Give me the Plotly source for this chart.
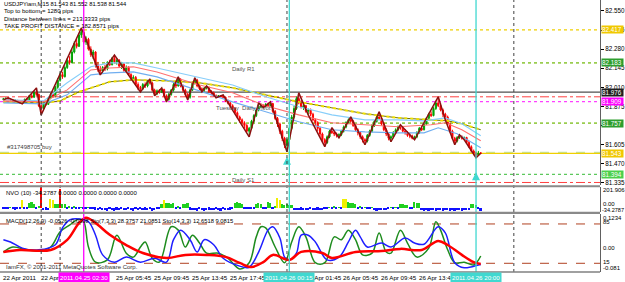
import plotly.graph_objects as go

# ---------------- data ----------------
closes = [81.928,81.932,81.926,81.922,81.915,81.918,81.905,81.900,81.905,81.925,
81.918,81.950,81.940,81.975,81.960,81.880,81.860,81.905,81.890,81.935,
81.960,81.945,82.010,82.060,82.100,82.085,82.150,82.200,82.185,82.260,
82.320,82.300,82.380,82.400,82.330,82.350,82.280,82.240,82.260,82.170,
82.140,82.125,82.150,82.140,82.185,82.170,82.215,82.190,82.200,82.160,
82.175,82.130,82.150,82.100,82.070,82.080,82.030,82.010,82.000,82.030,
82.020,82.055,82.040,81.990,81.965,81.985,81.975,81.995,81.950,81.925,
81.960,81.990,82.030,82.020,82.065,82.020,81.990,81.960,81.940,81.990,
82.040,82.060,82.020,82.000,81.990,82.005,82.010,81.980,81.970,81.950,
81.945,81.950,81.945,81.940,81.915,81.900,81.880,81.860,81.830,81.800,
81.780,81.760,81.740,81.700,81.720,81.770,81.810,81.850,81.870,81.880,
81.875,81.890,81.880,81.895,81.840,81.790,81.750,81.700,81.650,81.600,
81.640,81.720,81.800,81.860,81.930,81.900,81.870,81.880,81.840,81.850,
81.820,81.780,81.760,81.720,81.680,81.640,81.620,81.660,81.700,81.690,
81.680,81.670,81.675,81.700,81.730,81.760,81.780,81.770,81.740,81.710,
81.690,81.660,81.640,81.630,81.670,81.700,81.740,81.770,81.800,81.790,
81.750,81.710,81.680,81.650,81.660,81.690,81.710,81.730,81.720,81.700,
81.690,81.670,81.665,81.650,81.660,81.690,81.720,81.710,81.750,81.790,
81.820,81.810,81.860,81.900,81.880,81.850,81.820,81.800,81.750,81.700,
81.650,81.630,81.655,81.660,81.650,81.655,81.620,81.590,81.560,81.545,
81.530,81.545,81.544]
highs = [81.935,81.938,81.936,81.930,81.925,81.924,81.920,81.910,81.908,81.930,
81.935,81.955,81.962,81.982,82.006,81.965,81.900,81.910,81.915,81.940,
81.970,81.968,82.020,82.075,82.115,82.120,82.165,82.215,82.230,82.280,
82.335,82.350,82.395,82.430,82.415,82.370,82.360,82.300,82.275,82.265,
82.190,82.160,82.160,82.170,82.195,82.205,82.225,82.239,82.215,82.210,
82.190,82.180,82.165,82.160,82.110,82.095,82.090,82.045,82.020,82.040,
82.045,82.062,82.070,82.050,82.000,81.995,81.998,82.006,82.000,81.960,
81.970,81.998,82.040,82.055,82.084,82.075,82.030,82.000,81.970,82.000,
82.050,82.077,82.070,82.030,82.010,82.012,82.020,82.015,81.990,81.980,
81.960,81.955,81.955,81.957,81.945,81.925,81.905,81.890,81.870,81.840,
81.810,81.790,81.770,81.750,81.730,81.780,81.820,81.860,81.900,81.895,
81.890,81.898,81.902,81.907,81.900,81.850,81.800,81.760,81.710,81.660,
81.650,81.730,81.815,81.880,81.945,81.971,81.920,81.895,81.885,81.860,
81.860,81.830,81.790,81.770,81.730,81.690,81.650,81.670,81.710,81.724,
81.700,81.690,81.685,81.710,81.740,81.770,81.790,81.801,81.780,81.750,
81.720,81.700,81.670,81.650,81.680,81.710,81.750,81.780,81.815,81.837,
81.800,81.760,81.720,81.690,81.670,81.700,81.720,81.740,81.745,81.730,
81.715,81.700,81.690,81.675,81.668,81.700,81.730,81.735,81.760,81.800,
81.830,81.840,81.870,81.915,81.943,81.900,81.860,81.830,81.810,81.760,
81.710,81.660,81.665,81.674,81.670,81.662,81.660,81.630,81.600,81.570,
81.555,81.560,81.552]
lows = [81.918,81.922,81.920,81.915,81.908,81.905,81.900,81.895,81.893,81.900,
81.912,81.915,81.932,81.936,81.950,81.870,81.815,81.850,81.880,81.885,
81.925,81.935,81.940,82.000,82.050,82.070,82.080,82.140,82.170,82.180,
82.250,82.285,82.295,82.360,82.320,82.310,82.270,82.225,82.210,82.150,
82.120,82.098,82.110,82.125,82.130,82.160,82.165,82.180,82.170,82.150,
82.140,82.120,82.120,82.090,82.055,82.040,82.020,81.990,81.978,81.990,
82.005,82.010,82.030,81.980,81.950,81.955,81.965,81.970,81.940,81.907,
81.915,81.950,81.980,82.005,82.015,82.010,81.975,81.945,81.921,81.930,
81.985,82.030,82.010,81.990,81.978,81.980,81.995,81.970,81.955,81.940,
81.936,81.938,81.940,81.935,81.905,81.890,81.860,81.850,81.820,81.790,
81.760,81.740,81.720,81.690,81.660,81.710,81.760,81.800,81.840,81.865,
81.865,81.868,81.870,81.875,81.830,81.780,81.730,81.680,81.630,81.580,
81.554,81.630,81.710,81.790,81.850,81.890,81.860,81.850,81.830,81.815,
81.805,81.770,81.735,81.700,81.660,81.620,81.590,81.610,81.650,81.680,
81.665,81.655,81.653,81.665,81.690,81.720,81.750,81.760,81.730,81.700,
81.670,81.645,81.620,81.604,81.620,81.660,81.690,81.730,81.760,81.780,
81.740,81.700,81.665,81.635,81.625,81.650,81.680,81.700,81.710,81.690,
81.675,81.660,81.650,81.642,81.639,81.650,81.680,81.700,81.705,81.745,
81.780,81.800,81.805,81.850,81.870,81.840,81.800,81.780,81.740,81.690,
81.640,81.604,81.620,81.645,81.640,81.639,81.610,81.580,81.550,81.530,
81.512,81.525,81.538]
first_open = 81.925
bars = list(range(len(closes)))
opens = [first_open] + closes[:-1]

zz_i = [0,2,8,14,16,33,41,47,58,62,64,67,69,74,78,81,84,86,90,93,104,108,110,113,120,125,129,136,139,142,147,153,159,164,168,174,184,187,191,193,195,200,202]
zz_p = [81.921,81.936,81.893,82.006,81.815,82.430,82.098,82.239,81.978,82.070,81.950,82.006,81.907,82.084,81.921,82.077,81.978,82.020,81.936,81.957,81.660,81.900,81.865,81.907,81.554,81.971,81.815,81.590,81.724,81.653,81.801,81.604,81.837,81.625,81.745,81.639,81.943,81.780,81.604,81.674,81.639,81.512,81.544]

ma_lb_i = [0,17,27,37,45,55,65,83,97,111,125,139,153,167,178,187,194,202]
ma_lb_p = [81.921,81.914,82.042,82.155,82.183,82.183,82.147,82.077,82.027,81.943,81.872,81.815,81.780,81.780,81.773,81.794,81.752,81.667]
ma_rd_i = [0,17,27,37,45,55,65,83,97,111,125,139,153,167,181,187,194,202]
ma_rd_p = [81.914,81.907,81.992,82.133,82.147,82.155,82.119,82.027,81.971,81.879,81.815,81.759,81.745,81.731,81.745,81.759,81.710,81.632]
ma_bl_i = [0,17,27,37,45,55,65,83,97,111,125,139,153,167,178,184,192,202]
ma_bl_p = [81.900,81.893,81.957,82.098,82.112,82.119,82.084,81.985,81.907,81.837,81.766,81.710,81.695,81.688,81.688,81.724,81.681,81.583]
ma_ye_i = [0,17,24,32,45,55,69,83,97,111,125,139,153,167,181,188,194,202]
ma_ye_p = [81.907,81.900,81.914,81.978,82.049,82.063,82.056,82.042,82.006,81.957,81.907,81.865,81.823,81.794,81.780,81.773,81.752,81.710]

nvo = ([-12,-8,-15,6,-10,-18,-9,-14] + [80] + [-10,-6] + [45,55,40] + [-12,20] + [200]
       + [-22,-18,-25] + [88,72] + [38,42] + [180] + [40,35]
       + [-8,12,-10,15,-6,-12,8,-9,-14,6,-10,-7]
       + [-18,-22,-12,-25,-20,-28,-15,-22,-30,-18,-24,-10,-20,-26,-14,-22,-28,-16,-20,-12,-25,-18,-22,-15,-28,-20,-10,-16]
       + [40,78,50,45,38,52] + [-8,10,-12] + [42,38,45]
       + [-18,-25,-20,-28,-15,-22,-30,-24,-18,-26,-20,-12,-24,-28,-16,-22,-25,-18,-10]
       + [45,55,48,40] + [-10,-15,-8,-12,-6] + [42,48,38] + [-8,-12] + [55,50] + [-6,10] + [95,80]
       + [35,30,38,32,28] + [-20,-25,-22,-18,-24,-26,-20,-15,-22,-25,-18,-23,-20,-16]
       + [-8,6,-10,12,-6,8,-5] + [88,82] + [55,48,52,40] + [-8,10,-12,6,-10,-5,8]
       + [-25,-28,-22,-26,-24,-20] + [-6,8,-10,5,-8] + [35,38,30,32] + [-10,-6] + [55,50,45]
       + [-25,-28,-22,-30,-26,-24,-28,-20,-26,-30,-25,-22,-28,-24,-30,-26,-22,-28,-25,-20,-24]
       + [35,38,30] + [-8] + [-34.2787])

sto14_i = [0,3,8,15,22,25,28,32,36,39,42,47,52,58,64,69,72,75,79,82,85,89,93,100,104,108,112,114,117,119,121,124,126,129,132,137,142,146,149,151,154,160,164,170,174,178,184,187,191,195,201,202]
sto14_v = [57,53,42,39,48,78,92,94,89,65,30,17,26,17,24,17,57,74,57,35,57,48,24,10,8,35,74,80,60,26,21,33,65,65,53,21,26,53,74,62,44,51,44,60,51,49,80,69,16,7,12,13]
sto7_i = [0,4,10,15,20,24,28,32,34,36,39,44,48,52,55,58,60,63,66,71,74,77,80,83,86,91,95,100,104,107,109,111,115,119,122,125,128,132,136,140,143,146,149,152,156,159,162,164,168,171,175,180,183,185,188,191,195,199,202]
sto7_v = [35,44,39,37,44,71,83,94,89,44,17,21,65,33,26,44,53,24,17,80,74,44,65,51,33,33,24,5,16,62,80,78,44,16,53,80,62,16,16,62,57,74,57,30,33,69,35,33,74,51,26,42,89,74,39,16,17,12,28]
macd_i = [0,7,20,27,32,35,39,45,52,59,69,77,86,94,100,105,110,114,121,126,135,139,149,160,168,177,184,188,194,199,202]
macd_v = [-0.009,-0.002,-0.002,0.035,0.096,0.115,0.096,0.053,0.016,-0.013,-0.031,-0.020,-0.020,-0.027,-0.049,-0.064,-0.046,-0.020,-0.038,-0.009,-0.013,-0.031,-0.009,-0.006,0.002,-0.002,0.031,0.016,-0.020,-0.046,-0.053]

# horizontal levels: (price, colour, dash, width)
levels = [(82.417, "#F0D000", "dot", 1.2), (82.183, "#9ACD50", "dot", 1.6), (81.976, "#505050", "solid", 1.3),
          (81.943, "#FF4040", "dashdot", 1), (81.909, "#FF40FF", "dot", 1.4), (81.757, "#9ACD50", "dot", 1.6),
          (81.548, "#C0E4A8", "dash", 2), (81.543, "#F0D000", "solid", 1.3), (81.394, "#5CC85C", "dot", 1.2),
          (81.337, "#FF4040", "dashdot", 1)]
price_boxes = [(82.417, "#F0C800"), (82.183, "#2E9E2E"), (81.976, "#202020"), (81.909, "#FF00FF"),
               (81.757, "#2E9E2E"), (81.543, "#F0C800"), (81.394, "#4CD04C")]
price_ticks = [82.550, 82.415, 82.280, 82.145, 82.010, 81.875, 81.740, 81.605, 81.470, 81.335]
price_tick_text = ["82.550", "82.415", "82.280", "82.145", "82.010", "81.875", "", "81.605", "81.470", "81.335"]
sep_i = [16, 24, 120, 216]
vmarks = [(34, "#FF00FF", "2011.04.25 02:30"), (121, "#40D8D0", "2011.04.26 00:15"), (200, "#40D8D0", "2011.04.26 20:00")]
xlab_i = [-1, 15, 47, 63, 79, 95, 127, 143, 159, 175]
xlab_t = ["22 Apr 2011", "22 Apr 2", "25 Apr 05:45", "25 Apr 09:45", "25 Apr 13:45", "25 Apr 17:45",
          "26 Apr 01:45", "26 Apr 05:45", "26 Apr 09:45", "26 Apr 13:45"]
arrow_i = [120, 200]
arrow_p = [81.519, 81.410]

FONT = "Liberation Sans"
PH = 272.0  # plot height in px
def py(px):
    return 1 - px / PH

fig = go.Figure()
for lv, col, d, w in levels:
    fig.add_shape(type="line", xref="paper", x0=0, x1=1, yref="y", y0=lv, y1=lv,
                  line=dict(color=col, dash=d, width=w), layer="below")

fig.add_trace(go.Candlestick(x=bars, open=opens, high=highs, low=lows, close=closes,
    increasing=dict(line=dict(color="#00A000", width=1), fillcolor="#00B000"),
    decreasing=dict(line=dict(color="#FF0000", width=1), fillcolor="#FF0000"),
    whiskerwidth=0, xaxis="x", yaxis="y", hoverinfo="skip"))

fig.add_trace(go.Scatter(x=ma_ye_i, y=ma_ye_p, mode="lines", line=dict(color="#707000", width=1), xaxis="x", yaxis="y"))
fig.add_trace(go.Scatter(x=ma_ye_i, y=ma_ye_p, mode="lines", line=dict(color="#F0E000", width=2, dash="dot"), xaxis="x", yaxis="y"))
fig.add_trace(go.Scatter(x=ma_lb_i, y=ma_lb_p, mode="lines", line=dict(color="#87CEFA", width=1.1), xaxis="x", yaxis="y"))
fig.add_trace(go.Scatter(x=ma_rd_i, y=ma_rd_p, mode="lines", line=dict(color="#FF7070", width=1.1), xaxis="x", yaxis="y"))
fig.add_trace(go.Scatter(x=ma_bl_i, y=ma_bl_p, mode="lines", line=dict(color="#70AEF0", width=1.1), xaxis="x", yaxis="y"))
fig.add_trace(go.Scatter(x=zz_i, y=zz_p, mode="lines", line=dict(color="#8B1010", width=1.5), xaxis="x", yaxis="y"))
fig.add_trace(go.Scatter(x=arrow_i, y=arrow_p, mode="markers", marker=dict(symbol="arrow-up", size=8, color="#40D8D0"), xaxis="x", yaxis="y"))

ncol = ["#FF0000" if v >= 150 else "#F0F000" if v >= 70 else "#20D020" if v >= 0 else "#1010FF" for v in nvo]
fig.add_trace(go.Bar(x=list(range(len(nvo))), y=nvo, marker=dict(color=ncol, line=dict(width=0)), width=0.7, xaxis="x", yaxis="y2"))

fig.add_trace(go.Scatter(x=macd_i, y=macd_v, mode="lines", line=dict(color="#FF0000", width=2.5, shape="spline"), xaxis="x", yaxis="y4"))
fig.add_trace(go.Scatter(x=sto7_i, y=sto7_v, mode="lines", line=dict(color="#1E8C1E", width=1.5, shape="spline"), xaxis="x", yaxis="y3"))
fig.add_trace(go.Scatter(x=sto14_i, y=sto14_v, mode="lines", line=dict(color="#1E1EFF", width=1.5, shape="spline"), xaxis="x", yaxis="y3"))

for lv in (85, 15):
    fig.add_shape(type="line", xref="paper", x0=0, x1=1, yref="y3", y0=lv, y1=lv,
                  line=dict(color="#B04020", dash="dash", width=1), layer="below")

for s in sep_i:
    fig.add_shape(type="line", xref="x", x0=s, x1=s, yref="paper", y0=0, y1=1,
                  line=dict(color="#404040", dash="dot", width=1))
for vi, col, _ in vmarks:
    fig.add_shape(type="line", xref="x", x0=vi, x1=vi, yref="paper", y0=0, y1=1,
                  line=dict(color=col, width=1.3))

# panel separators
for a, b in ((185.2, 187.3), (211.8, 213.9)):
    fig.add_shape(type="rect", xref="paper", x0=0, x1=1, yref="paper", y0=py(b), y1=py(a),
                  fillcolor="#8A8A8A", line=dict(width=0))
fig.add_shape(type="line", xref="paper", x0=0, x1=1, yref="paper", y0=0, y1=0, line=dict(color="#808080", width=1.5))

ann = []
def txt(x, y, t, xref="paper", yref="paper", xa="left", ya="middle", size=6, color="#000000", **kw):
    ann.append(dict(x=x, y=y, xref=xref, yref=yref, text=t, showarrow=False, xanchor=xa, yanchor=ya,
                    font=dict(family=FONT, size=size, color=color), **kw))

txt(0.003, py(4), "USDJPYiam,M15 81.543 81.552 81.538 81.544", size=5.8)
txt(0.003, py(11.5), "Top to bottom = 1280 pips")
txt(0.003, py(19), "Distance between lines = 213.3333 pips")
txt(0.003, py(26.5), "TAKE PROFIT DISTANCE = 182.8571 pips")
txt(96, 82.183, "Daily R1", xref="x", yref="y", ya="top", color="#505050", yshift=-1)
txt(96, 81.394, "Daily S1", xref="x", yref="y", ya="top", color="#505050", yshift=-1)
txt(89, 81.909, "Tuesday  Daily Pivot", xref="x", yref="y", ya="top", color="#505050", yshift=-1)
txt(0.6, 81.543, "#317498705 buy", xref="x", yref="y", ya="bottom", color="#404040", yshift=1)
txt(0.006, py(193), "NVO (10) -34.2787 0.0000 0.0000 0.0000 0.0000")
txt(0.006, py(221), "MACD(12,26,9) -0.0526 -0.0398 Sto(7,3,3) 28.3757 21.0851 Sto(14,3,3) 12.6518 9.0815", size=5.8)
txt(0.006, py(266.5), "IamFX, © 2001-2011 MetaQuotes Software Corp.", color="#303030")

for p, col in price_boxes:
    txt(1, p, "%.3f" % p, yref="y", color="#FFFFFF", xshift=1, bgcolor=col, borderpad=0, width=21, align="left", size=6.3)

txt(1, 201.906, "201.906", yref="y2", xshift=1, yshift=-2)
txt(1, 0, "0.00", yref="y2", xshift=1, yshift=4)
txt(1, -34.2787, "-34.2787", yref="y2", xshift=0, yshift=2, size=5.6)
txt(1, 0.1234, "0.1234", yref="y4", xshift=1, yshift=-3)
txt(1, 85, "85", yref="y3", xshift=1, yshift=2)
txt(1, 0, "0.00", yref="y4", xshift=1, yshift=1)
txt(1, 15, "15", yref="y3", xshift=1, yshift=1)
txt(1, -0.081, "-0.081", yref="y4", xshift=1, yshift=4)

for xi, t in zip(xlab_i, xlab_t):
    txt(xi, py(277), t, xref="x", size=6.2)
for vi, col, t in vmarks:
    txt(vi, py(277), t, xref="x", xa="center", size=6.2, color="#FFFFFF", bgcolor=col, borderpad=1)

fig.update_layout(
    width=625, height=282, margin=dict(l=0, r=22, t=0, b=10),
    paper_bgcolor="white", plot_bgcolor="white", showlegend=False,
    annotations=ann, bargap=0,
    xaxis=dict(range=[-1.43, 252.46], anchor="y3", showticklabels=False, ticks="", showgrid=False,
               zeroline=False, rangeslider=dict(visible=False), showline=False),
    yaxis=dict(domain=[py(185.2), 1], range=[81.3177, 82.6277], side="right", tickvals=price_ticks,
               ticktext=price_tick_text, ticks="outside", ticklen=3, tickcolor="#000",
               tickfont=dict(family=FONT, size=6.3, color="#000"), showgrid=False, zeroline=False,
               showline=True, linecolor="#606060", linewidth=1, anchor="x"),
    yaxis2=dict(domain=[py(211.8), py(187.3)], range=[-36, 204], side="right", showticklabels=False, ticks="",
                showgrid=False, zeroline=False, showline=True, linecolor="#606060", anchor="x"),
    yaxis3=dict(domain=[0, py(213.9)], range=[-0.5, 102.9], side="right", showticklabels=False, ticks="",
                showgrid=False, zeroline=False, showline=True, linecolor="#606060", anchor="x"),
    yaxis4=dict(domain=[0, py(213.9)], range=[-0.0821, 0.1292], overlaying="y3", side="right",
                showticklabels=False, ticks="", showgrid=False, zeroline=False, anchor="x"),
)
fig.write_html("out.html")
